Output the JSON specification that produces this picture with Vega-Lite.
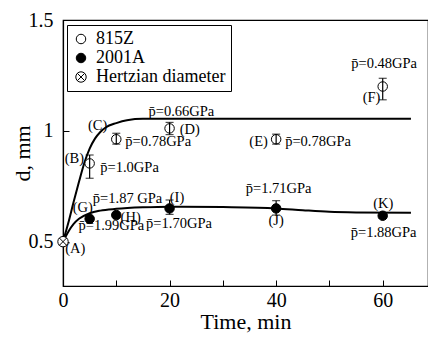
{
  "$schema": "https://vega.github.io/schema/vega-lite/v6.json",
  "width": 365,
  "height": 266,
  "autosize": "none",
  "padding": {"left": 63, "top": 20, "right": 0, "bottom": 51},
  "background": "white",
  "config": {
    "view": {"stroke": "black", "strokeWidth": 1.2},
    "axis": {
      "labelFont": "Liberation Serif", "titleFont": "Liberation Serif",
      "labelFontSize": 20, "labelColor": "black",
      "titleFontSize": 22, "titleFontWeight": "normal", "titleColor": "black",
      "domainColor": "black", "domainWidth": 1.2, "tickColor": "black", "tickWidth": 1,
      "tickSize": -6, "grid": false, "labelFlush": false
    },
    "legend": {
      "labelFont": "Liberation Serif",
      "labelFontSize": 18, "labelColor": "black"
    }
  },
  "datasets": {
    "curves": [
      {"curve": "815Z", "t": 0, "d": 0.5},
      {"curve": "815Z", "t": 1, "d": 0.585},
      {"curve": "815Z", "t": 2, "d": 0.68},
      {"curve": "815Z", "t": 3, "d": 0.77},
      {"curve": "815Z", "t": 4, "d": 0.855},
      {"curve": "815Z", "t": 5, "d": 0.92},
      {"curve": "815Z", "t": 6, "d": 0.965},
      {"curve": "815Z", "t": 7, "d": 0.995},
      {"curve": "815Z", "t": 8, "d": 1.015},
      {"curve": "815Z", "t": 10, "d": 1.035},
      {"curve": "815Z", "t": 12, "d": 1.048},
      {"curve": "815Z", "t": 15, "d": 1.054},
      {"curve": "815Z", "t": 65.3, "d": 1.054},
      {"curve": "2001A", "t": 0, "d": 0.5},
      {"curve": "2001A", "t": 1, "d": 0.545},
      {"curve": "2001A", "t": 2, "d": 0.58},
      {"curve": "2001A", "t": 3, "d": 0.603},
      {"curve": "2001A", "t": 5, "d": 0.628},
      {"curve": "2001A", "t": 7, "d": 0.64},
      {"curve": "2001A", "t": 10, "d": 0.648},
      {"curve": "2001A", "t": 15, "d": 0.655},
      {"curve": "2001A", "t": 20, "d": 0.658},
      {"curve": "2001A", "t": 30, "d": 0.656},
      {"curve": "2001A", "t": 40, "d": 0.65},
      {"curve": "2001A", "t": 45, "d": 0.642},
      {"curve": "2001A", "t": 50, "d": 0.635},
      {"curve": "2001A", "t": 55, "d": 0.632},
      {"curve": "2001A", "t": 65.3, "d": 0.63}
    ],
    "points": [
      {"series": "815Z", "t": 5, "d": 0.853},
      {"series": "815Z", "t": 10, "d": 0.962},
      {"series": "815Z", "t": 20, "d": 1.011},
      {"series": "815Z", "t": 40, "d": 0.962},
      {"series": "815Z", "t": 60, "d": 1.2},
      {"series": "2001A", "t": 5, "d": 0.603},
      {"series": "2001A", "t": 10, "d": 0.62},
      {"series": "2001A", "t": 20, "d": 0.65},
      {"series": "2001A", "t": 40, "d": 0.65},
      {"series": "2001A", "t": 60, "d": 0.617},
      {"series": "Hertzian diameter", "t": 0, "d": 0.5}
    ],
    "errors": [
      {"t": 5, "lo": 0.786, "hi": 0.891},
      {"t": 10, "lo": 0.94, "hi": 0.989},
      {"t": 20, "lo": 0.983, "hi": 1.038},
      {"t": 40, "lo": 0.94, "hi": 0.985},
      {"t": 60, "lo": 1.14, "hi": 1.237},
      {"t": 20, "lo": 0.623, "hi": 0.688},
      {"t": 40, "lo": 0.62, "hi": 0.685},
      {"t": 60, "lo": 0.606, "hi": 0.628}
    ],
    "pressures": [
      {"t": 16.05, "v": 1.068, "label": "p̄=0.66GPa"},
      {"t": 11.7, "v": 0.931, "label": "p̄=0.78GPa"},
      {"t": 7.0, "v": 0.816, "label": "p̄=1.0GPa"},
      {"t": 41.7, "v": 0.93, "label": "p̄=0.78GPa"},
      {"t": 54.1, "v": 1.282, "label": "p̄=0.48GPa"},
      {"t": 5.6, "v": 0.673, "label": "p̄=1.87 GPa"},
      {"t": 2.9, "v": 0.553, "label": "p̄=1.99GPa"},
      {"t": 15.6, "v": 0.56, "label": "p̄=1.70GPa"},
      {"t": 34.3, "v": 0.718, "label": "p̄=1.71GPa"},
      {"t": 54.0, "v": 0.52, "label": "p̄=1.88GPa"}
    ],
    "tags": [
      {"t": 2.3, "v": 0.447, "label": "(A)"},
      {"t": 2.15, "v": 0.853, "label": "(B)"},
      {"t": 6.5, "v": 1.004, "label": "(C)"},
      {"t": 23.8, "v": 0.984, "label": "(D)"},
      {"t": 36.7, "v": 0.93, "label": "(E)"},
      {"t": 57.9, "v": 1.131, "label": "(F)"},
      {"t": 3.7, "v": 0.635, "label": "(G)"},
      {"t": 12.7, "v": 0.59, "label": "(H)"},
      {"t": 21.4, "v": 0.68, "label": "(I)"},
      {"t": 40.0, "v": 0.575, "label": "(J)"},
      {"t": 60.1, "v": 0.65, "label": "(K)"}
    ]
  },
  "layer": [
    {
      "data": {"name": "curves"},
      "mark": {"type": "line", "color": "black", "strokeWidth": 2, "interpolate": "monotone"},
      "encoding": {
        "x": {
          "field": "t", "type": "quantitative",
          "scale": {"domain": [0, 68.5], "nice": false, "zero": false},
          "axis": {
            "values": [0, 10, 20, 30, 40, 50, 60],
            "labelExpr": "datum.value % 20 === 0 ? datum.label : ''",
            "labelPadding": 10,
            "title": "Time, min", "titlePadding": 1
          }
        },
        "y": {
          "field": "d", "type": "quantitative",
          "scale": {"domain": [0.3, 1.5], "nice": false, "zero": false},
          "axis": {
            "values": [0.5, 1, 1.5],
            "format": "~g",
            "labelPadding": 16,
            "title": "d, mm", "titlePadding": -6
          }
        },
        "detail": {"field": "curve"}
      }
    },
    {
      "data": {"name": "points"},
      "mark": {"type": "point", "filled": true, "opacity": 1, "size": 90, "strokeWidth": 1},
      "encoding": {
        "x": {"field": "t", "type": "quantitative"},
        "y": {"field": "d", "type": "quantitative"},
        "shape": {
          "field": "series", "type": "nominal",
          "scale": {
            "domain": ["815Z", "2001A", "Hertzian diameter"],
            "range": ["circle", "circle", "M-1.1,0A1.1,1.1,0,1,1,1.1,0A1.1,1.1,0,1,1,-1.1,0ZM-0.78,-0.78L0.78,0.78M-0.78,0.78L0.78,-0.78"]
          },
          "legend": {
            "orient": "none", "legendX": 4, "legendY": 5, "title": null,
            "strokeColor": "black", "fillColor": "white", "padding": 5,
            "symbolSize": 90, "symbolStrokeWidth": 1,
            "rowPadding": 1, "labelOffset": 6
          }
        },
        "fill": {
          "field": "series", "type": "nominal",
          "scale": {"domain": ["815Z", "2001A", "Hertzian diameter"], "range": ["white", "black", "white"]},
          "legend": {
            "orient": "none", "legendX": 4, "legendY": 5, "title": null,
            "strokeColor": "black", "fillColor": "white", "padding": 5,
            "symbolSize": 90, "symbolStrokeWidth": 1,
            "rowPadding": 1, "labelOffset": 6
          }
        },
        "stroke": {
          "field": "series", "type": "nominal",
          "scale": {"domain": ["815Z", "2001A", "Hertzian diameter"], "range": ["black", "black", "black"]},
          "legend": {
            "orient": "none", "legendX": 4, "legendY": 5, "title": null,
            "strokeColor": "black", "fillColor": "white", "padding": 5,
            "symbolSize": 90, "symbolStrokeWidth": 1,
            "rowPadding": 1, "labelOffset": 6
          }
        }
      }
    },
    {
      "data": {"name": "errors"},
      "mark": {"type": "rule", "color": "black", "strokeWidth": 1.2},
      "encoding": {
        "x": {"field": "t", "type": "quantitative"},
        "y": {"field": "lo", "type": "quantitative"},
        "y2": {"field": "hi"}
      }
    },
    {
      "data": {"name": "errors"},
      "mark": {"type": "tick", "orient": "horizontal", "color": "black", "size": 8, "thickness": 1.2},
      "encoding": {
        "x": {"field": "t", "type": "quantitative"},
        "y": {"field": "lo", "type": "quantitative"}
      }
    },
    {
      "data": {"name": "errors"},
      "mark": {"type": "tick", "orient": "horizontal", "color": "black", "size": 8, "thickness": 1.2},
      "encoding": {
        "x": {"field": "t", "type": "quantitative"},
        "y": {"field": "hi", "type": "quantitative"}
      }
    },
    {
      "data": {"name": "pressures"},
      "mark": {"type": "text", "align": "left", "baseline": "alphabetic", "font": "Liberation Serif", "fontSize": 14.5, "color": "black"},
      "encoding": {
        "x": {"field": "t", "type": "quantitative"},
        "y": {"field": "v", "type": "quantitative"},
        "text": {"field": "label"}
      }
    },
    {
      "data": {"name": "tags"},
      "mark": {"type": "text", "align": "center", "baseline": "alphabetic", "font": "Liberation Serif", "fontSize": 14.5, "color": "black"},
      "encoding": {
        "x": {"field": "t", "type": "quantitative"},
        "y": {"field": "v", "type": "quantitative"},
        "text": {"field": "label"}
      }
    }
  ]
}
